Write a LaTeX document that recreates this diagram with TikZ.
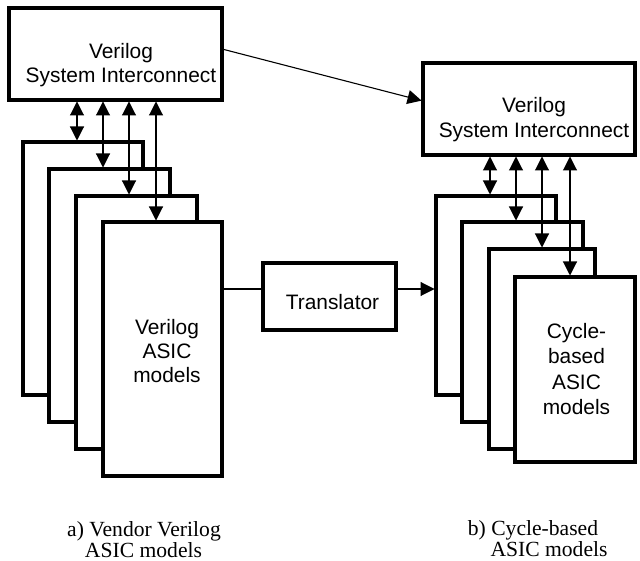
\documentclass[tikz,border=0pt]{standalone}
\usepackage{fontspec}
\setmainfont{Liberation Serif}
\newfontfamily\arialf{Liberation Sans}
\usetikzlibrary{arrows.meta}
\begin{document}
\begin{tikzpicture}[x=1pt,y=-1pt,
  box/.style={draw,line width=3.3pt,fill=white,rectangle,inner sep=0pt,outer sep=0pt,anchor=north west},
  btxt/.style={font=\arialf\fontsize{20.9}{24.5}\selectfont,align=center,inner sep=0pt},
  mtxt/.style={font=\arialf\fontsize{20.9}{25.2}\selectfont,align=center,inner sep=0pt},
  captxt/.style={font=\fontsize{21.6}{24}\selectfont,anchor=base,inner sep=0pt},
  bus/.style={line width=1.1pt,{Triangle[length=14pt,width=14pt]}-{Triangle[length=14pt,width=14pt]},shorten <=1.5pt,shorten >=1.5pt},
  arr/.style={line width=1.1pt,-{Triangle[length=14pt,width=14pt]},shorten >=1.5pt},
  wire/.style={line width=1.1pt}]
\useasboundingbox (0,0) rectangle (640,561);

% left system interconnect
\node[box,minimum width=213pt,minimum height=92pt] (LS) at (9,8) {};
\node[btxt] (LStxt) at (121,65) {Verilog\\System Interconnect};

% left stacked ASIC models
\node[box,minimum width=120pt,minimum height=253pt] (L1) at (23,142) {};
\node[box,minimum width=121pt,minimum height=253pt] (L2) at (49,169) {};
\node[box,minimum width=121pt,minimum height=253pt] (L3) at (76,196) {};
\node[box,minimum width=119pt,minimum height=254pt] (L4) at (103,222) {};
\node[btxt,font=\arialf\fontsize{20.9}{24}\selectfont] (L4txt) at (167,351) {Verilog\\ASIC\\models};

% right system interconnect
\node[box,minimum width=212pt,minimum height=92pt] (RS) at (423,63) {};
\node[btxt] (RStxt) at (534,119.5) {Verilog\\System Interconnect};

% right stacked models
\node[box,minimum width=120pt,minimum height=199pt] (R1) at (436,196) {};
\node[box,minimum width=121pt,minimum height=200pt] (R2) at (462,222) {};
\node[box,minimum width=106pt,minimum height=200pt] (R3) at (489,249) {};
\node[box,minimum width=120pt,minimum height=185pt] (R4) at (515,277) {};
\node[mtxt] (R4txt) at (576.5,369) {Cycle-\\based\\ASIC\\models};

% translator
\node[box,minimum width=133pt,minimum height=67pt] (T) at (263,263) {};
\node[btxt] (Ttxt) at (332.5,302) {Translator};

% bus arrows left
\coordinate (la1) at (77,0);
\coordinate (la2) at (103,0);
\coordinate (la3) at (129,0);
\coordinate (la4) at (156,0);
\draw[bus] (LS.south -| la1) -- (L1.north -| la1);
\draw[bus] (LS.south -| la2) -- (L2.north -| la2);
\draw[bus] (LS.south -| la3) -- (L3.north -| la3);
\draw[bus] (LS.south -| la4) -- (L4.north -| la4);

% bus arrows right
\coordinate (ra1) at (490,0);
\coordinate (ra2) at (516,0);
\coordinate (ra3) at (542,0);
\coordinate (ra4) at (570,0);
\draw[bus] (RS.south -| ra1) -- (R1.north -| ra1);
\draw[bus] (RS.south -| ra2) -- (R2.north -| ra2);
\draw[bus] (RS.south -| ra3) -- (R3.north -| ra3);
\draw[bus] (RS.south -| ra4) -- (R4.north -| ra4);

% connections
\draw[arr] ([yshift=5pt]LS.east) -- ([yshift=8pt]RS.west);
\coordinate (tl) at ([yshift=7.5pt]T.west);
\coordinate (tr) at ([yshift=7.5pt]T.east);
\draw[wire] (L4.east |- tl) -- (tl);
\draw[arr] (tr) -- (R1.west |- tr);

% captions
\node[captxt] (ca1) at (144,536) {a) Vendor Verilog};
\node[captxt] (ca2) at (143.5,557) {ASIC models};
\node[captxt] (cb1) at (533,535.5) {b) Cycle-based};
\node[captxt] (cb2) at (549,556.5) {ASIC models};
\end{tikzpicture}
\end{document}
